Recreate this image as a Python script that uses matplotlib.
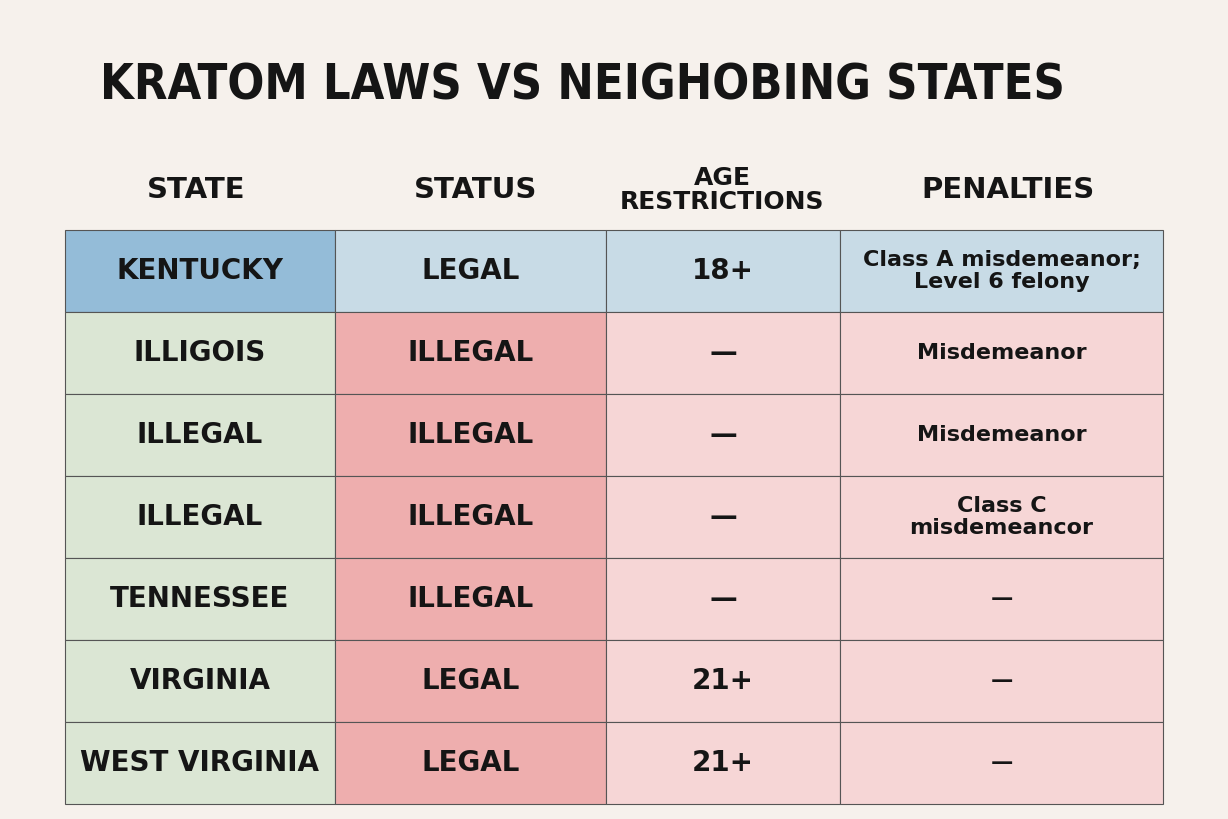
import matplotlib
matplotlib.use("Agg")
import matplotlib.pyplot as plt
from matplotlib.patches import Rectangle

title = "KRATOM LAWS VS NEIGHOBING STATES"
headers = ["STATE", "STATUS", "AGE\nRESTRICTIONS", "PENALTIES"]
states = ["KENTUCKY", "ILLIGOIS", "ILLEGAL", "ILLEGAL", "TENNESSEE", "VIRGINIA", "WEST VIRGINIA"]
status = ["LEGAL", "ILLEGAL", "ILLEGAL", "ILLEGAL", "ILLEGAL", "LEGAL", "LEGAL"]
ages = ["18+", "—", "—", "—", "—", "21+", "21+"]
penalties = ["Class A misdemeanor;\nLevel 6 felony", "Misdemeanor", "Misdemeanor",
             "Class C\nmisdemeancor", "—", "—", "—"]

W, H = 1228, 819
fig = plt.figure(figsize=(W/100, H/100), dpi=100)
fig.patch.set_facecolor("#f6f1ec")
ax = fig.add_axes([0, 0, 1, 1])
ax.set_xlim(0, W); ax.set_ylim(H, 0); ax.axis("off")

xs = [65, 335, 606, 840, 1163]
y0, rh = 230, 82

t = ax.text(100, 86, title, fontsize=46, fontweight="bold", family="DejaVu Sans",
            fontstretch="condensed", color="#151515", va="center", ha="left")
fig.canvas.draw()
bb = t.get_window_extent()
if bb.width > 970:
    t.set_fontsize(46 * 965 / bb.width)

hx = [196, 476, 722, 1008]
hs = [21, 21, 18, 21]
for x, h, s in zip(hx, headers, hs):
    ax.text(x, 190, h, fontsize=s, fontweight="bold", family="DejaVu Sans",
            color="#151515", ha="center", va="center", linespacing=0.95)

cols = [states, status, ages, penalties]
for r in range(len(states)):
    y = y0 + r * rh
    for c in range(4):
        if r == 0:
            fc = "#94bcd8" if c == 0 else "#c8dbe6"
        else:
            fc = ["#dbe6d4", "#eeaeae", "#f6d6d6", "#f6d6d6"][c]
        ax.add_patch(Rectangle((xs[c], y), xs[c+1]-xs[c], rh, facecolor=fc,
                               edgecolor="#555555", linewidth=0.8))
        txt = cols[c][r]
        fs = 16 if c == 3 else 20
        ax.text((xs[c]+xs[c+1])/2, y + rh/2, txt, fontsize=fs, fontweight="bold",
                family="DejaVu Sans", color="#151515",
                ha="center", va="center", linespacing=1.1)

fig.savefig("out.png", dpi=100, facecolor=fig.get_facecolor())
